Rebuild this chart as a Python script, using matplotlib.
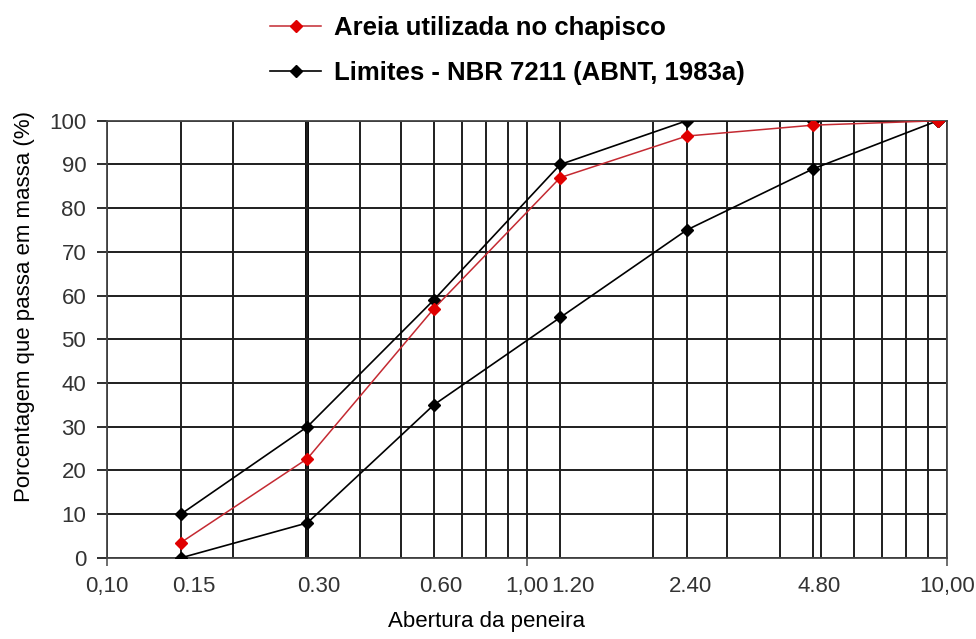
import matplotlib
matplotlib.use("Agg")
import matplotlib.pyplot as plt
from matplotlib.ticker import FixedLocator, NullFormatter

plt.rcParams['font.family'] = ['Liberation Sans', 'DejaVu Sans']

# Sieve openings (mm) and percentage passing
sieves = [0.15, 0.3, 0.6, 1.2, 2.4, 4.8, 9.5]
areia = [3.5, 22.7, 57, 87, 96.5, 99, 100]
limite_sup = [10, 30, 59, 90, 100, 100, 100]
limite_inf = [0, 8, 35, 55, 75, 89, 100]

tick_pos = [0.1, 0.15, 0.3, 0.6, 1.0, 1.2, 2.4, 4.8, 10.0]
tick_lbl = ["0,10", "0.15", "0.30", "0.60", "1,00", "1.20", "2.40", "4.80", "10,00"]
# the dotted labels were hand-placed text boxes, sitting a bit right of their line
tick_shift = [0, 9, 8, 5, 0, 9, 3, 4, 0]
minor_grid = [0.2, 0.4, 0.5, 0.7, 0.8, 0.9, 2, 3, 4, 5, 6, 7, 8, 9]
y_ticks = list(range(0, 101, 10))

fig = plt.figure(figsize=(9.76, 6.39), dpi=100)
ax = fig.add_axes([0.1096, 0.127, 0.8607, 0.684])

ax.set_xscale('log')
ax.set_xlim(0.1, 10)
ax.set_ylim(0, 100)

ax.xaxis.set_major_locator(FixedLocator(tick_pos))
ax.xaxis.set_major_formatter(NullFormatter())
ax.xaxis.set_minor_locator(FixedLocator(minor_grid))
ax.xaxis.set_minor_formatter(NullFormatter())
ax.set_yticks(y_ticks)
ax.set_yticklabels([str(v) for v in y_ticks])

grid_col = '#1e1e1e'
ax.grid(which='major', axis='both', color=grid_col, lw=1.4)
ax.grid(which='minor', axis='x', color=grid_col, lw=1.4)
ax.axvline(0.3, color='black', lw=2.8, zorder=1.5)

ax.tick_params(axis='x', which='minor', length=0)
ax.tick_params(axis='x', which='major', length=6, width=1.2, color='#555')
ax.tick_params(axis='y', length=7, width=1.3, color=grid_col, pad=8,
               labelsize=16, labelcolor='#333')
for t, pos in zip(ax.xaxis.get_major_ticks(), tick_pos):
    if pos not in (0.1, 1.0, 10.0):
        t.tick1line.set_visible(False)

for pos, lbl, dx in zip(tick_pos, tick_lbl, tick_shift):
    ax.annotate(lbl, xy=(pos, 0), xycoords=ax.get_xaxis_transform(),
                xytext=(dx, -13), textcoords='offset points',
                ha='center', va='top', fontsize=16, color='#333',
                annotation_clip=False)

for s in ax.spines.values():
    s.set_color('#444')
    s.set_linewidth(1.3)

ax.plot(sieves, limite_sup, color='black', lw=1.2, marker='D', ms=6,
        label='Limites - NBR 7211 (ABNT, 1983a)', zorder=3)
ax.plot(sieves, limite_inf, color='black', lw=1.2, marker='D', ms=6, zorder=3)
ax.plot(sieves, areia, color='#c42a32', lw=1.1, marker='D', ms=6,
        mfc='#e00000', mec='#e00000', label='Areia utilizada no chapisco', zorder=4)

handles, labels = ax.get_legend_handles_labels()
fig.legend(handles[::-1], labels[::-1], loc='upper left',
           bbox_to_anchor=(270 / 976, 1 - 16 / 639), frameon=False,
           prop={'weight': 'bold', 'size': 18.5}, handlelength=2.0,
           labelspacing=0.8, handletextpad=0.5, borderpad=0, borderaxespad=0)

ax.set_xlabel('Abertura da peneira', fontsize=16)
ax.xaxis.set_label_coords(0.452, -0.121)
ax.set_ylabel('Porcentagem que passa em massa (%)', fontsize=16)
ax.yaxis.set_label_coords(-0.086, 0.574)

fig.savefig('out.png', dpi=100)
